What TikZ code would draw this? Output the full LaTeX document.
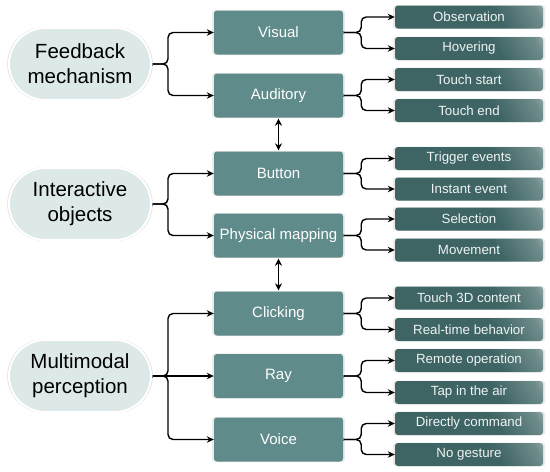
\documentclass[tikz,border=0pt]{standalone}
\usepackage{fontspec}
\setmainfont{Liberation Sans}
\usetikzlibrary{arrows.meta,shadows}
\definecolor{midc}{HTML}{5F8B8A}
\definecolor{darkc}{HTML}{3E6564}
\definecolor{ellc}{HTML}{DDE9E8}
\pgfdeclarehorizontalshading{rboxshade}{100bp}{color(0bp)=(darkc); color(62bp)=(darkc); color(80bp)=(darkc!75!white); color(100bp)=(white)}
\tikzset{
  ell/.style={rectangle, rounded corners=36pt, fill=ellc, draw=white, line width=2pt,
    minimum width=142pt, minimum height=72pt, align=center, inner sep=0pt,
    font=\fontsize{20.5}{25}\selectfont, text=black,
    general shadow={fill=black!12, shadow scale=1.025}},
  midbox/.style={rectangle, rounded corners=3pt, fill=midc, minimum width=129pt,
    minimum height=44pt, inner sep=0pt, text=white, font=\fontsize{15}{18}\selectfont,
    general shadow={fill=black!8, shadow scale=1.03}},
  rbox/.style={rectangle, rounded corners=3pt, shading=rboxshade, shading angle=30,
    minimum width=148pt, minimum height=23pt, inner sep=0pt, text=white!92!darkc,
    font=\fontsize{13.3}{15}\selectfont,
    general shadow={fill=black!8, shadow scale=1.03}},
  conn/.style={draw=black, line width=1.4pt, rounded corners=5pt,
    {Bar[width=3pt,line width=0.7pt,color=gray]}-{Stealth[length=7pt,width=6.5pt]}},
  dbl/.style={draw=black, line width=1.6pt, {Stealth[length=7pt,width=7pt]}-{Stealth[length=7pt,width=7pt]},
    shorten <=1pt, shorten >=1pt}
}
\begin{document}
\begin{tikzpicture}[x=1pt,y=-1pt]
\fill[white] (0,0) rectangle (550,472);
\useasboundingbox (0,0) rectangle (550,472);
% left nodes
\node[ell] (fb) at (80,64) {Feedback\\mechanism};
\node[ell] (io) at (80,204) {Interactive\\objects};
\node[ell] (mm) at (80,376) {Multimodal\\perception};
% middle boxes
\node[midbox] (vis) at (278.5,32.5) {Visual};
\node[midbox] (aud) at (278.5,95.5) {Auditory};
\node[midbox] (btn) at (278.5,173.5) {Button};
\node[midbox] (phy) at (278.5,235.5) {Physical mapping};
\node[midbox] (clk) at (278.5,313.5) {Clicking};
\node[midbox] (ray) at (278.5,376) {Ray};
\node[midbox] (voi) at (278.5,439.5) {Voice};
% right boxes
\node[rbox] (obs) at (469,17) {Observation};
\node[rbox] (hov) at (469,48.5) {Hovering};
\node[rbox] (tst) at (469,79.5) {Touch start};
\node[rbox] (tend) at (469,110.5) {Touch end};
\node[rbox] (trg) at (469,158.5) {Trigger events};
\node[rbox] (ins) at (469,189) {Instant event};
\node[rbox] (sel) at (469,219) {Selection};
\node[rbox] (mov) at (469,250) {Movement};
\node[rbox] (t3d) at (469,298) {Touch 3D content};
\node[rbox] (rtb) at (469,329.5) {Real-time behavior};
\node[rbox] (rem) at (469,360.5) {Remote operation};
\node[rbox] (tap) at (469,392.5) {Tap in the air};
\node[rbox] (dir) at (469,423.5) {Directly command};
\node[rbox] (nog) at (469,454.5) {No gesture};
% left connectors
\draw[conn] (fb.east) -- ++(16,0) |- (vis.west);
\draw[conn] (fb.east) -- ++(16,0) |- (aud.west);
\draw[conn] (io.east) -- ++(16,0) |- (btn.west);
\draw[conn] (io.east) -- ++(16,0) |- (phy.west);
\draw[conn] (mm.east) -- ++(16,0) |- (clk.west);
\draw[conn] (mm.east) -- (ray.west);
\draw[conn] (mm.east) -- ++(16,0) |- (voi.west);
% right connectors
\foreach \m/\a/\b in {vis/obs/hov, aud/tst/tend, btn/trg/ins, phy/sel/mov, clk/t3d/rtb, ray/rem/tap, voi/dir/nog}{
  \draw[conn] (\m.east) -- ++(18,0) |- (\a.west);
  \draw[conn] (\m.east) -- ++(18,0) |- (\b.west);
}
% vertical double arrows
\draw[dbl] (aud.south) -- (btn.north);
\draw[dbl] (phy.south) -- (clk.north);
\end{tikzpicture}
\end{document}
